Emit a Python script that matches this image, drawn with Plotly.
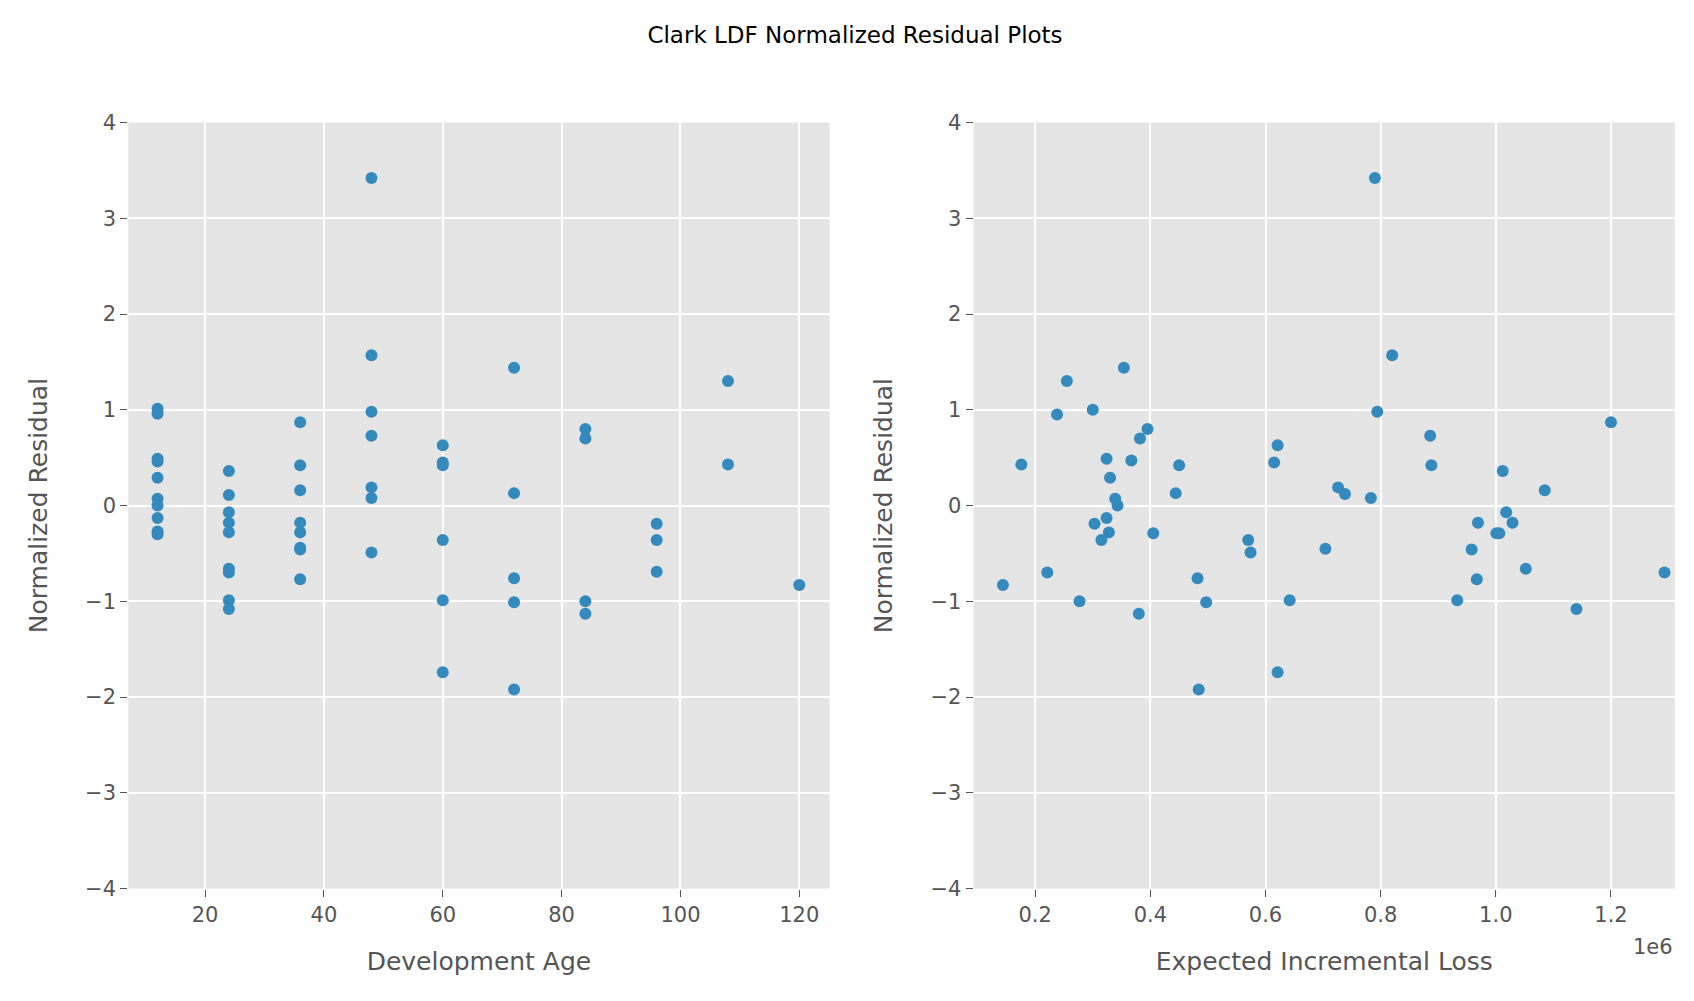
import plotly.graph_objects as go
from plotly.subplots import make_subplots

dev_age = [12]*10 + [24]*9 + [36]*8 + [48]*7 + [60]*6 + [72]*5 + [84]*4 + [96]*3 + [108]*2 + [120]
resid_by_age = [1.01,0.96,0.49,0.46,0.29,0.07,0.0,-0.13,-0.27,-0.30,
                0.36,0.11,-0.07,-0.18,-0.28,-0.66,-0.70,-0.99,-1.08,
                0.87,0.42,0.16,-0.18,-0.28,-0.44,-0.46,-0.77,
                3.42,1.57,0.98,0.73,0.19,0.08,-0.49,
                0.63,0.45,0.42,-0.36,-0.99,-1.74,
                1.44,0.13,-0.76,-1.01,-1.92,
                0.80,0.70,-1.0,-1.13,
                -0.19,-0.36,-0.69,
                1.30,0.43,
                -0.83]

exp_loss_m = [0.144,0.176,0.221,0.238,0.255,0.277,0.300,0.303,0.315,0.324,0.324,0.328,0.330,0.339,0.343,
              0.354,0.367,0.380,0.382,0.395,0.405,0.444,0.450,0.482,0.484,0.497,0.570,0.574,0.615,0.621,
              0.621,0.642,0.704,0.726,0.738,0.783,0.790,0.794,0.820,0.886,0.888,0.933,0.958,0.967,0.969,
              1.001,1.006,1.012,1.018,1.029,1.052,1.085,1.140,1.200,1.293]
resid_by_loss = [-0.83,0.43,-0.70,0.95,1.30,-1.0,1.0,-0.19,-0.36,0.49,-0.13,-0.28,0.29,0.07,0.0,
                 1.44,0.47,-1.13,0.70,0.80,-0.29,0.13,0.42,-0.76,-1.92,-1.01,-0.36,-0.49,0.45,-1.74,
                 0.63,-0.99,-0.45,0.19,0.12,0.08,3.42,0.98,1.57,0.73,0.42,-0.99,-0.46,-0.77,-0.18,
                 -0.29,-0.29,0.36,-0.07,-0.18,-0.66,0.16,-1.08,0.87,-0.70]
exp_loss = [v*1e6 for v in exp_loss_m]

loss_ticks = [0.2,0.4,0.6,0.8,1.0,1.2]
y_ticks = [-4,-3,-2,-1,0,1,2,3,4]
y_ticktext = [str(v).replace("-", "\u2212") for v in y_ticks]

C = "#348ABD"
fig = make_subplots(rows=1, cols=2)
fig.add_trace(go.Scatter(x=dev_age, y=resid_by_age, mode="markers",
                         marker=dict(color=C, size=12)), 1, 1)
fig.add_trace(go.Scatter(x=exp_loss, y=resid_by_loss, mode="markers",
                         marker=dict(color=C, size=12)), 1, 2)

font = dict(family="DejaVu Sans", color="#555555", size=21)
tfont = dict(family="DejaVu Sans", size=25, color="#555555")
axcommon = dict(showgrid=True, gridcolor="white", gridwidth=1.5, zeroline=False,
                ticks="outside", ticklen=7, tickcolor="#555555", tickfont=font,
                showline=False)
fig.update_layout(
    width=1694, height=1001, showlegend=False,
    paper_bgcolor="white", plot_bgcolor="#E5E5E5",
    font=font,
    title=dict(text="Clark LDF Normalized Residual Plots", x=0.5, xanchor="center",
               y=0.973, yanchor="middle", font=dict(family="DejaVu Sans", size=23, color="black")),
    margin=dict(l=0, r=0, t=0, b=0),
    xaxis=dict(domain=[0.071, 0.485], range=[7.07, 125.1],
               tickvals=[20,40,60,80,100,120],
               title=dict(text="Development Age", font=tfont, standoff=26),
               **axcommon),
    xaxis2=dict(domain=[0.570, 0.984], range=[0.093e6, 1.311e6],
                tickvals=[v*1e6 for v in loss_ticks], ticktext=[str(v) for v in loss_ticks],
                title=dict(text="Expected Incremental Loss", font=tfont, standoff=26),
                **axcommon),
    yaxis=dict(domain=[0.111, 0.895], range=[-4, 4], tickvals=y_ticks, ticktext=y_ticktext,
               title=dict(text="Normalized Residual", font=tfont, standoff=30),
               **axcommon),
    yaxis2=dict(domain=[0.111, 0.895], range=[-4, 4], tickvals=y_ticks, ticktext=y_ticktext,
                title=dict(text="Normalized Residual", font=tfont, standoff=30),
                **axcommon),
)
fig.add_annotation(text="1e6", xref="paper", yref="paper", x=0.984, y=0.065,
                   xanchor="right", yanchor="top", showarrow=False,
                   font=dict(family="DejaVu Sans", size=21, color="#555555"))
fig.write_html("out.html")
